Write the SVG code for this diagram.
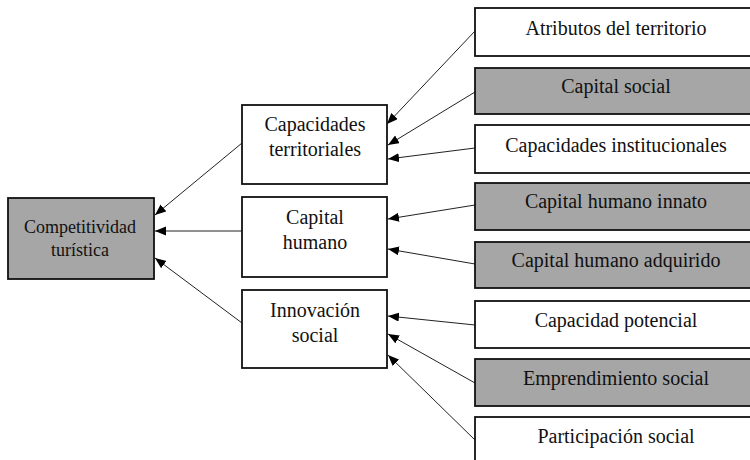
<svg xmlns="http://www.w3.org/2000/svg" width="750" height="460" viewBox="0 0 750 460">
<style>
.box{stroke:#111;stroke-width:1.8;fill:#fff}
.gray{fill:#a6a6a6}
.t{font-family:"Liberation Serif","Times New Roman",serif;font-size:20px;fill:#111;text-anchor:middle}
.s{font-size:18px}
.c{stroke:#222;stroke-width:1;fill:none;marker-end:url(#ah)}
</style>
<defs>
<marker id="ah" markerUnits="userSpaceOnUse" markerWidth="12" markerHeight="10" refX="11" refY="4.5" orient="auto">
<path d="M0,0 L11,4.5 L0,9 z" fill="#000"/>
</marker>
</defs>
<rect width="750" height="460" fill="#fff"/>
<g id="connectors">
<line class="c" x1="475" y1="31" x2="387" y2="124"/>
<line class="c" x1="475" y1="92" x2="388" y2="145"/>
<line class="c" x1="475" y1="148" x2="388" y2="159"/>
<line class="c" x1="475" y1="205" x2="388" y2="219"/>
<line class="c" x1="475" y1="264" x2="388" y2="249"/>
<line class="c" x1="475" y1="325" x2="388" y2="316"/>
<line class="c" x1="475" y1="383" x2="388" y2="334"/>
<line class="c" x1="475" y1="440" x2="388" y2="355"/>
<line class="c" x1="242" y1="143" x2="155" y2="215"/>
<line class="c" x1="242" y1="231" x2="155" y2="231"/>
<line class="c" x1="242" y1="323" x2="155" y2="258"/>
</g>
<g id="n-competitividad">
<rect class="box gray" x="8" y="198" width="146" height="81"/>
<text class="t s" x="80" y="233">Competitividad</text>
<text class="t s" x="80" y="256">turística</text>
</g>
<g id="n-capacidades">
<rect class="box" x="242" y="105" width="145" height="79"/>
<text class="t" x="315" y="131">Capacidades</text>
<text class="t" x="315" y="156">territoriales</text>
</g>
<g id="n-capital-humano">
<rect class="box" x="242" y="197" width="145" height="80"/>
<text class="t" x="315" y="224">Capital</text>
<text class="t" x="315" y="249">humano</text>
</g>
<g id="n-innovacion">
<rect class="box" x="242" y="290" width="145" height="78"/>
<text class="t" x="315" y="317">Innovación</text>
<text class="t" x="315" y="342">social</text>
</g>
<g id="n-atributos">
<rect class="box" x="475" y="8" width="290" height="48"/>
<text class="t" x="616" y="35">Atributos del territorio</text>
</g>
<g id="n-capital-social">
<rect class="box gray" x="475" y="68" width="290" height="46"/>
<text class="t" x="616" y="93">Capital social</text>
</g>
<g id="n-capacidades-inst">
<rect class="box" x="475" y="125" width="290" height="48"/>
<text class="t" x="616" y="152">Capacidades institucionales</text>
</g>
<g id="n-innato">
<rect class="box gray" x="475" y="183" width="290" height="47"/>
<text class="t" x="616" y="208">Capital humano innato</text>
</g>
<g id="n-adquirido">
<rect class="box gray" x="475" y="242" width="290" height="46"/>
<text class="t" x="616" y="267">Capital humano adquirido</text>
</g>
<g id="n-potencial">
<rect class="box" x="475" y="301" width="290" height="47"/>
<text class="t" x="616" y="327">Capacidad potencial</text>
</g>
<g id="n-emprendimiento">
<rect class="box gray" x="475" y="359" width="290" height="47"/>
<text class="t" x="616" y="385">Emprendimiento social</text>
</g>
<g id="n-participacion">
<rect class="box" x="475" y="417" width="290" height="60"/>
<text class="t" x="616" y="443">Participación social</text>
</g>
</svg>
